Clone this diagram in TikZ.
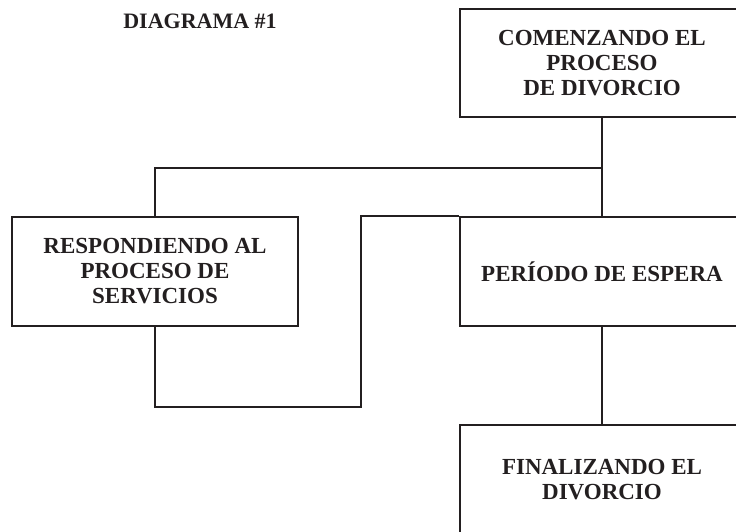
\documentclass[tikz,border=0pt]{standalone}
\usepackage{fontspec}
\setmainfont{Liberation Serif}
\definecolor{ink}{HTML}{231F20}
\begin{document}
\begin{tikzpicture}[x=1pt,y=-1pt,
  boxst/.style={draw=ink,line width=2pt,rectangle,align=center,text=ink,
    font=\fontsize{23}{25}\selectfont\bfseries,inner sep=0pt,
    minimum width=284pt,minimum height=108pt},
  wire/.style={draw=ink,line width=2pt}]
\clip (0,0) rectangle (736,531);
\node[text=ink,font=\fontsize{22}{24}\selectfont\bfseries] (title) at (200,21) {DIAGRAMA \#1};
\node[boxst] (b1) at (602,63) {COMENZANDO EL\\PROCESO\\DE DIVORCIO};
\node[boxst,minimum width=286pt,minimum height=109pt] (b2) at (155,271.5) {RESPONDIENDO AL\\PROCESO DE\\SERVICIOS};
\node[boxst,minimum height=109pt] (b3) at (602,271.5) {PERÍODO DE ESPERA};
\node[boxst,minimum height=109pt] (b4) at (602,479.5) {FINALIZANDO EL\\DIVORCIO};
\coordinate (j1) at (602,168);
\coordinate (c1) at (361,407);
\draw[wire] (b1.south) -- (b3.north);
\draw[wire] (j1) -| (b2.north);
\draw[wire] (b2.south) |- (c1) |- (b3.north west);
\draw[wire] (b3.south) -- (b4.north);
\end{tikzpicture}
\end{document}
